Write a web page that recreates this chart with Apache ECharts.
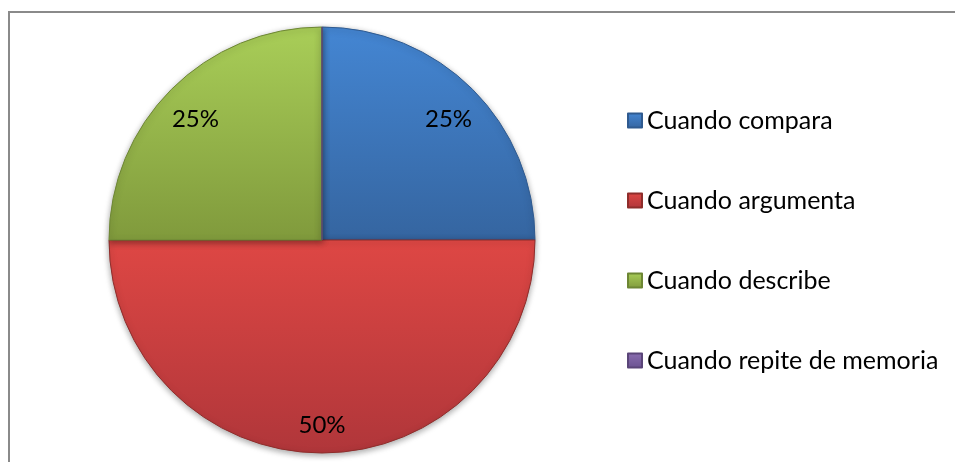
<!DOCTYPE html>
<html>
<head>
<meta charset="utf-8">
<script src="https://cdn.jsdelivr.net/npm/echarts@6/dist/echarts.min.js"></script>
<style>
  html, body { margin: 0; padding: 0; background: #fff; }
  #chart { width: 955px; height: 462px; }
</style>
</head>
<body>
<div id="chart"></div>
<script>
var categories = ['Cuando compara', 'Cuando argumenta', 'Cuando describe', 'Cuando repite de memoria'];
var values = [25, 50, 25, 0];
var topColors = ['#4486d3', '#de4744', '#a9ce58', '#8a6db0'];
var bottomColors = ['#3565a0', '#b0363a', '#809a3c', '#6a5290'];
var edgeColors = ['#2f5a8f', '#8e2d2b', '#6d8634', '#5a4578'];

var chartDom = document.getElementById('chart');
var myChart = echarts.init(chartDom);
var option;

function sliceStyle(i) {
    return {
        color: new echarts.graphic.LinearGradient(0, 0, 0, 1, [
            { offset: 0, color: topColors[i] },
            { offset: 1, color: bottomColors[i] }
        ]),
        borderColor: edgeColors[i],
        borderWidth: 1
    };
}

var pieData = categories.map(function (name, i) {
    return { name: name, value: values[i], itemStyle: sliceStyle(i) };
});
var labelData = categories.map(function (name, i) {
    return { name: name, value: values[i] };
});

option = {
    animation: false,
    graphic: [
        {
            type: 'rect',
            shape: { x: 9, y: 12, width: 1000, height: 500 },
            style: { fill: 'none', stroke: '#8a8a8a', lineWidth: 2 },
            z: -1
        }
    ],
    legend: {
        orient: 'vertical',
        left: 627,
        top: 108,
        padding: 0,
        itemWidth: 14,
        itemHeight: 14,
        itemGap: 55,
        icon: 'rect',
        data: categories,
        textStyle: {
            fontFamily: 'Lato',
            fontSize: 25,
            lineHeight: 25,
            color: '#000'
        }
    },
    series: [
        {
            name: 'main',
            type: 'pie',
            center: [322, 240],
            radius: [0, 213],
            startAngle: 90,
            clockwise: true,
            label: { show: false },
            labelLine: { show: false },
            itemStyle: {
                shadowBlur: 6,
                shadowColor: 'rgba(0,0,0,0.35)',
                shadowOffsetY: 2
            },
            data: pieData
        },
        {
            name: 'labels',
            type: 'pie',
            center: [322, 240],
            radius: [139, 213],
            startAngle: 90,
            clockwise: true,
            silent: true,
            legendHoverLink: false,
            itemStyle: { color: 'rgba(0,0,0,0)', borderWidth: 0 },
            label: {
                show: true,
                position: 'inside',
                offset: [0, 6],
                fontFamily: 'Lato',
                fontSize: 24,
                color: '#000',
                formatter: function (p) {
                    return p.value ? Math.round(p.percent) + '%' : '';
                }
            },
            labelLine: { show: false },
            data: labelData
        }
    ]
};
option && myChart.setOption(option);
</script>
</body>
</html>
